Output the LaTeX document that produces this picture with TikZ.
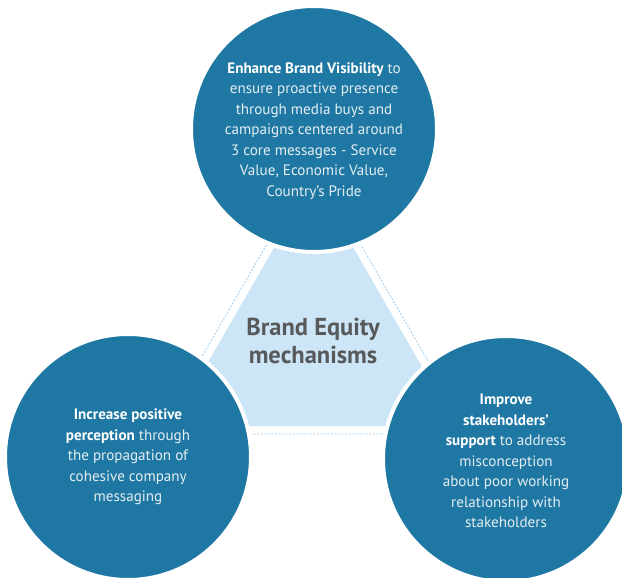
\documentclass[tikz,border=0pt]{standalone}
\usepackage{fontspec}
\setmainfont{PT Sans}
\definecolor{circ}{HTML}{1F78A3}
\definecolor{trifill}{HTML}{CCE6F7}
\definecolor{dashc}{HTML}{9CCDEE}
\definecolor{ctext}{HTML}{58595B}
\definecolor{btxt}{HTML}{E4EDF2}
\begin{document}
\begin{tikzpicture}[x=1pt,y=-1pt,
  bubble/.style={circle, fill=circ, draw=white, line width=4pt, minimum size=246pt, inner sep=0pt},
  btext/.style={text=btxt, align=center, inner sep=0pt, font=\fontsize{15.1}{20.5}\selectfont},
  ctr/.style={text=ctext, align=center, inner sep=0pt, font=\fontsize{24.5}{28}\selectfont\bfseries}]
\useasboundingbox (0,0) rectangle (622,578);
\clip (0,0) rectangle (622,578);
% dashed outer triangle
\coordinate (da) at (313.7,163.1);
\coordinate (dl) at (157.3,434);
\coordinate (dr) at (470.1,434);
\draw[dashc, dashed, dash pattern=on 2pt off 1.5pt, line width=0.8pt] (da) -- (dl) -- (dr) -- cycle;
% filled triangle
\coordinate (ta) at (313.7,179);
\coordinate (tl) at (171.2,426);
\coordinate (tr) at (456.2,426);
\fill[trifill] (ta) -- (tl) -- (tr) -- cycle;
% circles
\node[bubble] (top) at (314,129) {};
\node[bubble] (left) at (128,457) {};
\node[bubble] (right) at (506,459) {};
% texts
\node[btext] (toptext) at (314,131) {\textbf{\color{white}Enhance Brand Visibility} to\\ensure proactive presence\\through media buys and\\campaigns centered around\\3 core messages - Service\\Value, Economic Value,\\Country's Pride};
\node[btext] (lefttext) at (128,457) {\textbf{\color{white}Increase positive}\\\textbf{\color{white}perception} through\\the propagation of\\cohesive company\\messaging};
\node[btext] (righttext) at (506,461) {\textbf{\color{white}Improve}\\\textbf{\color{white}stakeholders'}\\\textbf{\color{white}support} to address\\misconception\\about poor working\\relationship with\\stakeholders};
\node[ctr] (center) at (313,341) {Brand Equity\\mechanisms};
\end{tikzpicture}
\end{document}
